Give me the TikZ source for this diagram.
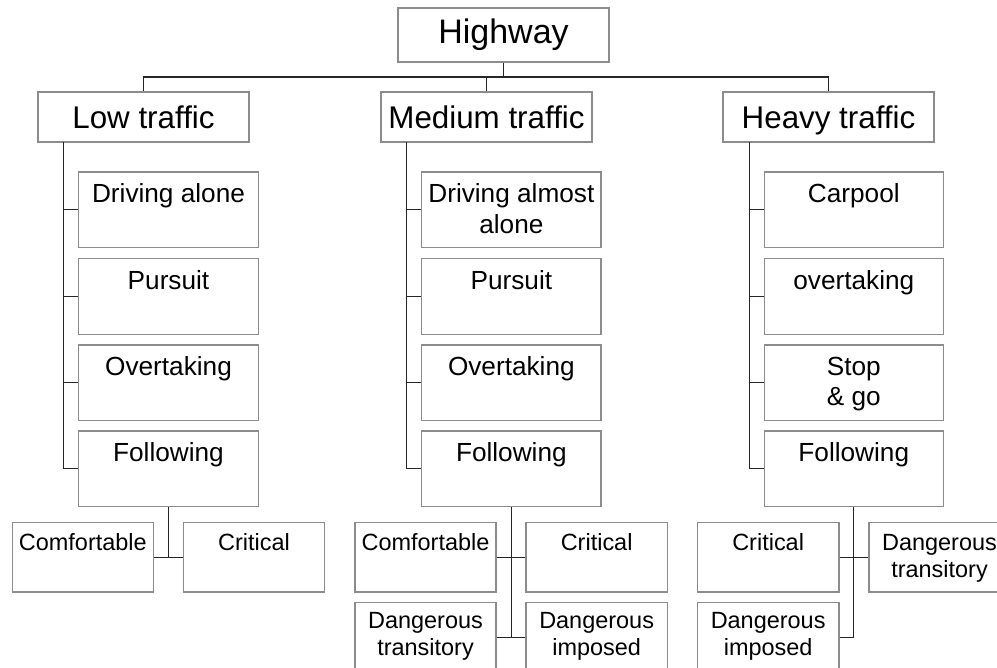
\documentclass[tikz,border=0pt]{standalone}
\usepackage{fontspec}
\setmainfont{Liberation Sans}
\tikzset{
  box/.style={draw=black!45, line width=0.8pt, inner sep=0pt},
  conn/.style={draw=black!85, line width=0.9pt},
  toptext/.style={font=\fontsize{25.5}{30}\selectfont, text height=18.5pt, text depth=5.3pt},
  lvtext/.style={font=\fontsize{23.5}{28}\selectfont, text height=17pt, text depth=0pt},
  ctext/.style={font=\fontsize{19.65}{22.9}\selectfont, anchor=base, align=center, inner sep=0pt},
  gtext/.style={font=\fontsize{17.6}{20.2}\selectfont, anchor=base, align=center, inner sep=0pt}
}
\newcommand\mkbox[6]{% name x1 y1 x2 y2 extra style
  \node[box, minimum width={(#4-#2)*0.75pt}, minimum height={(#5-#3)*0.75pt}, #6] (#1) at ({(#2+#4)/2},{(#3+#5)/2}) {};}
\newcommand\mkchild[7]{% name x1 y1 x2 y2 shift(last baseline) text
  \mkbox{#1}{#2}{#3}{#4}{#5}{}
  \node[ctext] (#1-t) at ([yshift=-#6]#1.north) {#7};}
\newcommand\mkgrand[7]{% name x1 y1 x2 y2 shift(last baseline) text
  \mkbox{#1}{#2}{#3}{#4}{#5}{}
  \node[gtext] (#1-t) at ([yshift=-#6]#1.north) {#7};}
\begin{document}
\begin{tikzpicture}[x=0.75pt,y=-0.75pt]
\clip (0,0) rectangle (997,668);
\useasboundingbox (0,0) rectangle (997,668);

% top levels
\node[box, toptext, minimum width={211*0.75pt}, minimum height={54*0.75pt}] (hw) at (503.5,35) {Highway};
\node[box, lvtext, minimum width={211*0.75pt}, minimum height={50*0.75pt}] (low) at (143.5,117) {Low traffic};
\node[box, lvtext, minimum width={211*0.75pt}, minimum height={50*0.75pt}] (med) at (486.5,117) {Medium traffic};
\node[box, lvtext, minimum width={211*0.75pt}, minimum height={50*0.75pt}] (hvy) at (828.5,117) {Heavy traffic};

% low traffic children
\mkchild{l1}{78.7}{172}{258.3}{247.7}{23.25pt}{Driving alone}
\mkchild{l2}{78.7}{258.7}{258.3}{334.3}{23.25pt}{Pursuit}
\mkchild{l3}{78.7}{345}{258.3}{420.4}{23.25pt}{Overtaking}
\mkchild{l4}{78.7}{431}{258.3}{506.7}{23.25pt}{Following}
% medium traffic children
\mkchild{m1}{421.7}{172}{601}{247.7}{46.15pt}{Driving almost\\alone}
\mkchild{m2}{421.7}{258.7}{601}{334.3}{23.25pt}{Pursuit}
\mkchild{m3}{421.7}{345}{601}{420.4}{23.25pt}{Overtaking}
\mkchild{m4}{421.7}{431}{601}{506.7}{23.25pt}{Following}
% heavy traffic children
\mkchild{h1}{764.3}{172}{943.3}{247.7}{23.25pt}{Carpool}
\mkchild{h2}{764.3}{258.7}{943.3}{334.3}{23.25pt}{overtaking}
\mkchild{h3}{764.3}{345}{943.3}{420.4}{45.8pt}{Stop\\\& go}
\mkchild{h4}{764.3}{431}{943.3}{506.7}{23.25pt}{Following}

% grandchildren
\mkgrand{lc}{12.3}{522.7}{153.3}{592}{21.2pt}{Comfortable}
\mkgrand{lr}{183.3}{522.7}{324.7}{592}{21.2pt}{Critical}
\mkgrand{mc}{355}{522.7}{496}{592}{21.2pt}{Comfortable}
\mkgrand{mr}{526}{522.7}{667.3}{592}{21.2pt}{Critical}
\mkgrand{mdt}{355}{602.7}{496}{672}{40.2pt}{Dangerous\\transitory}
\mkgrand{mdi}{526}{602.7}{667.3}{672}{40.2pt}{Dangerous\\imposed}
\mkgrand{hr}{697.3}{522.7}{839}{592}{21.2pt}{Critical}
\mkgrand{hdt}{869}{522.7}{1010}{592}{41.4pt}{Dangerous\\transitory}
\mkgrand{hdi}{697.3}{602.7}{839}{672}{40.2pt}{Dangerous\\imposed}

% connectors: top bus
\coordinate (bus) at (0,77);
\draw[conn] (hw.south) -- (hw.south |- bus);
\draw[conn] (low.north) -- (low.north |- bus) -- (hvy.north |- bus) -- (hvy.north);
\draw[conn] (med.north) -- (med.north |- bus);

% trunks
\coordinate (lt) at (63.7,142);
\coordinate (mt) at (406.7,142);
\coordinate (ht) at (749.3,142);
\draw[conn] (lt) |- (l4.west);
\draw[conn] (lt |- l1.west) -- (l1.west);
\draw[conn] (lt |- l2.west) -- (l2.west);
\draw[conn] (lt |- l3.west) -- (l3.west);
\draw[conn] (mt) |- (m4.west);
\draw[conn] (mt |- m1.west) -- (m1.west);
\draw[conn] (mt |- m2.west) -- (m2.west);
\draw[conn] (mt |- m3.west) -- (m3.west);
\draw[conn] (ht) |- (h4.west);
\draw[conn] (ht |- h1.west) -- (h1.west);
\draw[conn] (ht |- h2.west) -- (h2.west);
\draw[conn] (ht |- h3.west) -- (h3.west);

% following -> grandchildren
\draw[conn] (l4.south) -- (l4.south |- lc.east);
\draw[conn] (lc.east) -- (lr.west);
\draw[conn] (m4.south) -- (m4.south |- mdt.east);
\draw[conn] (mc.east) -- (mr.west);
\draw[conn] (mdt.east) -- (mdi.west);
\draw[conn] (h4.south) -- (h4.south |- hdi.east) -- (hdi.east);
\draw[conn] (hr.east) -- (hdt.west);
\end{tikzpicture}
\end{document}
